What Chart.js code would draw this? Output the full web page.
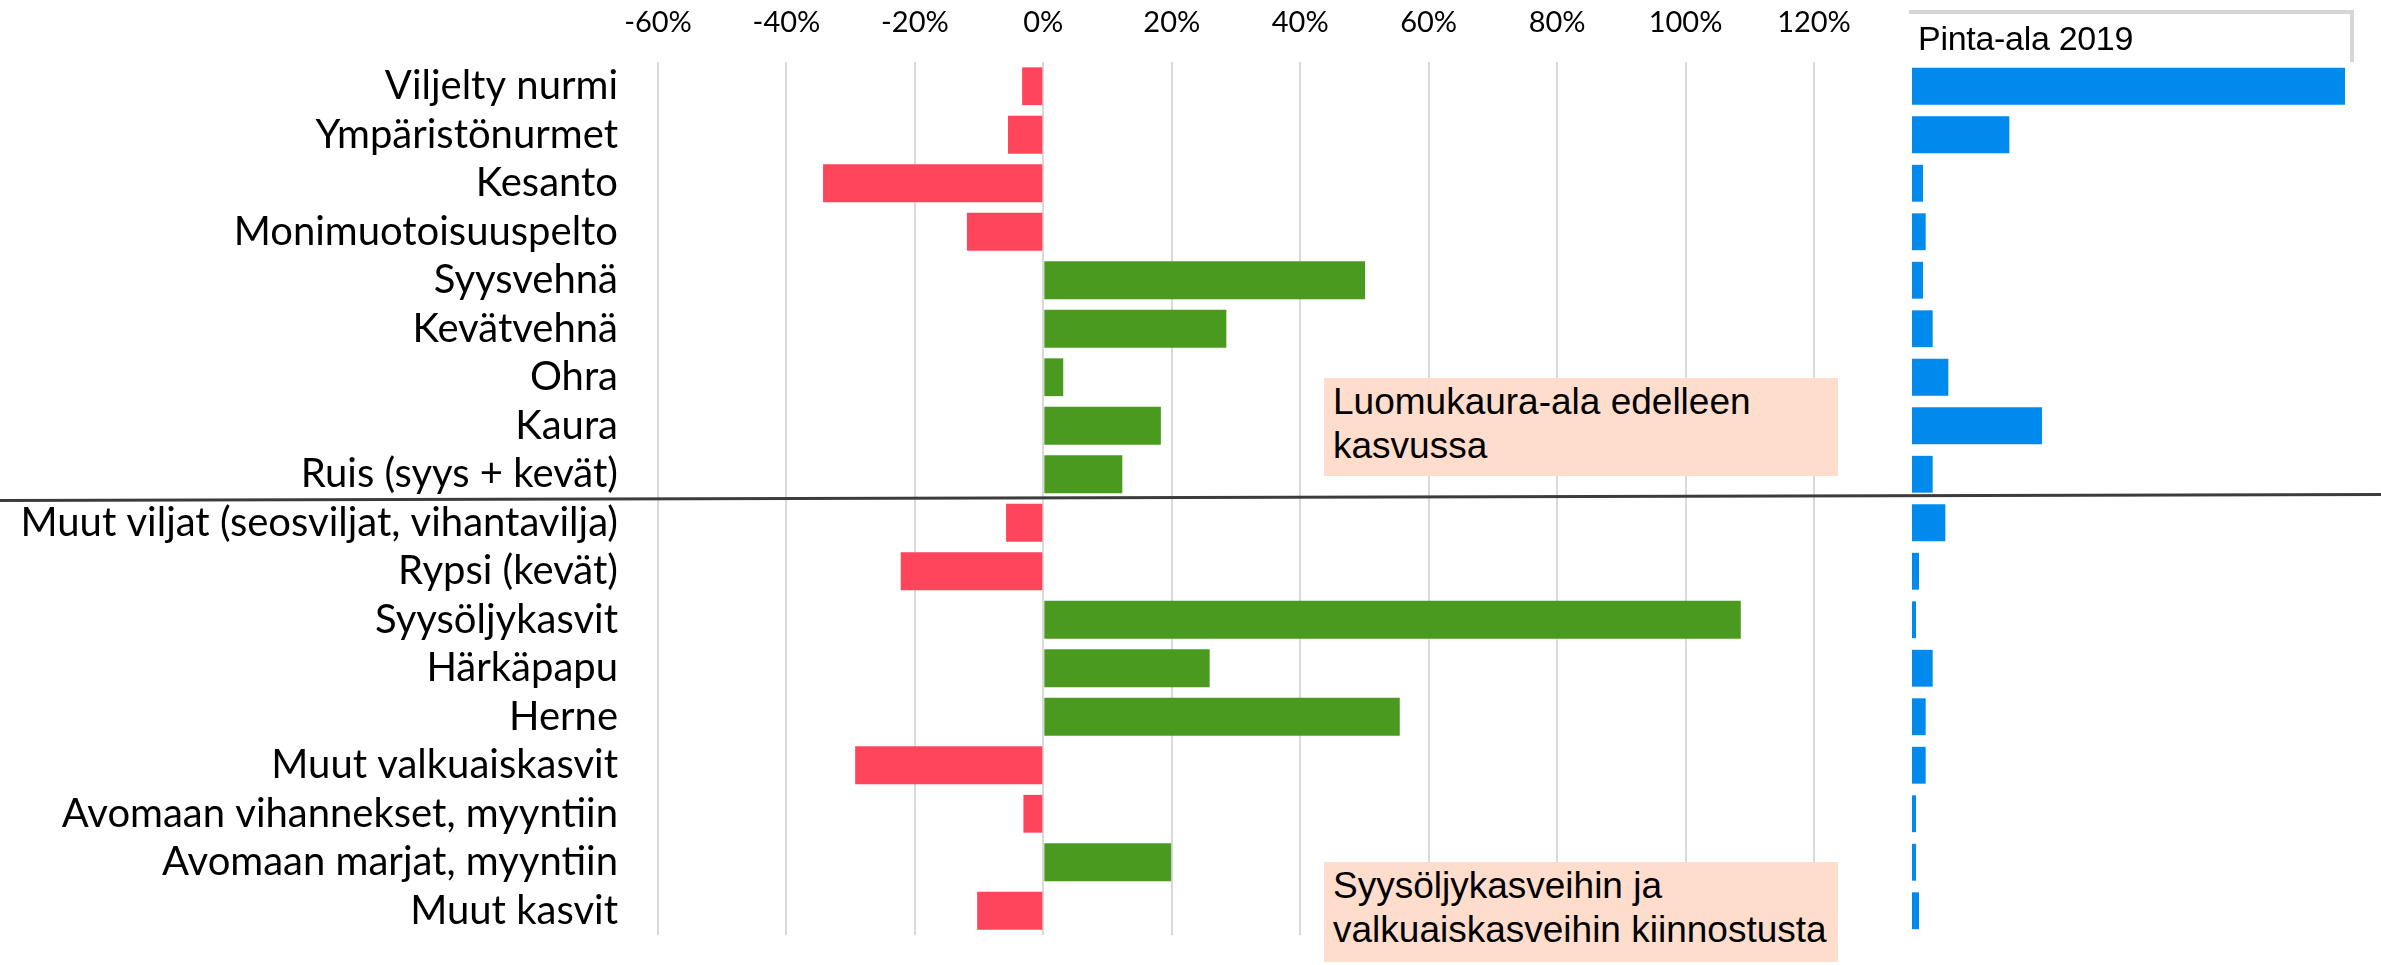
<!DOCTYPE html>
<html>
<head>
<meta charset="utf-8">
<script src="https://cdn.jsdelivr.net/npm/chart.js@4.4.1/dist/chart.umd.min.js"></script>
<style>
  body { margin: 0; background: #fff; }
  #wrap { position: relative; width: 2381px; height: 965px; overflow: hidden; }
  canvas { position: absolute; top: 0; }
  #muutosChart { left: 0; }
  #alaChart { left: 1880px; }
  .note {
    position: absolute; background: #FFDDCC; color: #000;
    font-family: "Liberation Sans", Arial, sans-serif; font-size: 37px; line-height: 44px;
    padding: 2px 9px; box-sizing: border-box;
  }
  #otsikko {
    position: absolute; left: 1909px; top: 10px; width: 445px; height: 52px;
    border-top: 4px solid #D6D6D6; border-right: 4px solid #D6D6D6; box-sizing: border-box;
    font-family: "Liberation Sans", Arial, sans-serif; font-size: 34px; line-height: 40px;
    padding-left: 9px; padding-top: 4px; letter-spacing: -0.3px;
  }
  #erotin {
    position: absolute; left: -5px; top: 496px; width: 2400px; height: 3px; background: #3c3c3c;
    transform: rotate(-0.14deg);
  }
</style>
</head>
<body>
<div id="wrap">
  <canvas id="muutosChart" width="1880" height="965"></canvas>
  <canvas id="alaChart" width="501" height="965"></canvas>
  <div id="otsikko">Pinta-ala 2019</div>
  <div class="note" style="left:1324px; top:378px; width:514px; height:98px;">Luomukaura-ala edelleen<br>kasvussa</div>
  <div class="note" style="left:1324px; top:862px; width:514px; height:100px;">Syysöljykasveihin ja<br>valkuaiskasveihin kiinnostusta</div>
  <div id="erotin"></div>
</div>
<script>
// kasvit ylhäältä alas
const kasvit = [
    'Viljelty nurmi',
    'Ympäristönurmet',
    'Kesanto',
    'Monimuotoisuuspelto',
    'Syysvehnä',
    'Kevätvehnä',
    'Ohra',
    'Kaura',
    'Ruis (syys + kevät)',
    'Muut viljat (seosviljat, vihantavilja)',
    'Rypsi (kevät)',
    'Syysöljykasvit',
    'Härkäpapu',
    'Herne',
    'Muut valkuaiskasvit',
    'Avomaan vihannekset, myyntiin',
    'Avomaan marjat, myyntiin',
    'Muut kasvit'
];

// pinta-alan muutos, %
const muutos = [-3.3, -5.5, -34.3, -11.9, 50.1, 28.5, 3.1, 18.3, 12.3,
                -5.8, -22.2, 108.6, 25.9, 55.5, -29.3, -3.1, 19.9, -10.3];

// pinta-ala 2019, ha (arvioitu kuvasta)
const pintaAla = [129900, 29200, 3300, 4100, 3300, 6200, 10900, 39000, 6200,
                  10000, 2100, 1200, 6200, 4100, 4100, 1200, 1200, 2100];

// x-akselin jaot
const prosenttiJaot = [-60, -40, -20, 0, 20, 40, 60, 80, 100, 120];

const PUNAINEN = '#FF455C';
const VIHREA = '#4A9A20';
const SININEN = '#008AEE';

const labelFont = { family: 'Lato, "Open Sans", sans-serif', size: 40 };
const tickFont = { family: 'Lato, "Open Sans", sans-serif', size: 29 };

// muutosprosentit
new Chart(document.getElementById('muutosChart'), {
    type: 'bar',
    data: {
        labels: kasvit,
        datasets: [{
            data: muutos,
            backgroundColor: muutos.map(v => v < 0 ? PUNAINEN : VIHREA),
            barPercentage: 0.78,
            categoryPercentage: 1.0
        }]
    },
    options: {
        indexAxis: 'y',
        responsive: false,
        animation: false,
        layout: { padding: { left: 0, top: 0, right: 66, bottom: 30 } },
        plugins: { legend: { display: false }, tooltip: { enabled: false } },
        scales: {
            x: {
                position: 'top',
                min: -60,
                max: 120,
                afterBuildTicks: scale => { scale.ticks = prosenttiJaot.map(v => ({ value: v })); },
                afterFit: scale => { scale.height = 62; },
                ticks: {
                    callback: v => v + '%',
                    font: tickFont,
                    color: '#000',
                    padding: 22,
                    maxRotation: 0
                },
                grid: { color: '#D9D9D9', lineWidth: 2, drawTicks: false },
                border: { display: false }
            },
            y: {
                afterFit: scale => { scale.width = 658; },
                // väli akselin ja tekstin välillä tickLengthillä, jotta ylä/alareuna ei kasva
                ticks: { font: labelFont, color: '#000', padding: 0, autoSkip: false },
                grid: { drawOnChartArea: false, drawTicks: true, tickLength: 40, color: 'rgba(0,0,0,0)' },
                border: { display: false }
            }
        }
    }
});

// pinta-ala 2019
new Chart(document.getElementById('alaChart'), {
    type: 'bar',
    data: {
        labels: kasvit,
        datasets: [{
            data: pintaAla,
            backgroundColor: SININEN,
            barPercentage: 0.76,
            categoryPercentage: 1.0
        }]
    },
    options: {
        indexAxis: 'y',
        responsive: false,
        animation: false,
        layout: { padding: { left: 32, top: 62, right: 29, bottom: 30 } },
        plugins: { legend: { display: false }, tooltip: { enabled: false } },
        scales: {
            x: { display: false, min: 0, max: 132000 },
            y: { display: false }
        }
    }
});
</script>
</body>
</html>
